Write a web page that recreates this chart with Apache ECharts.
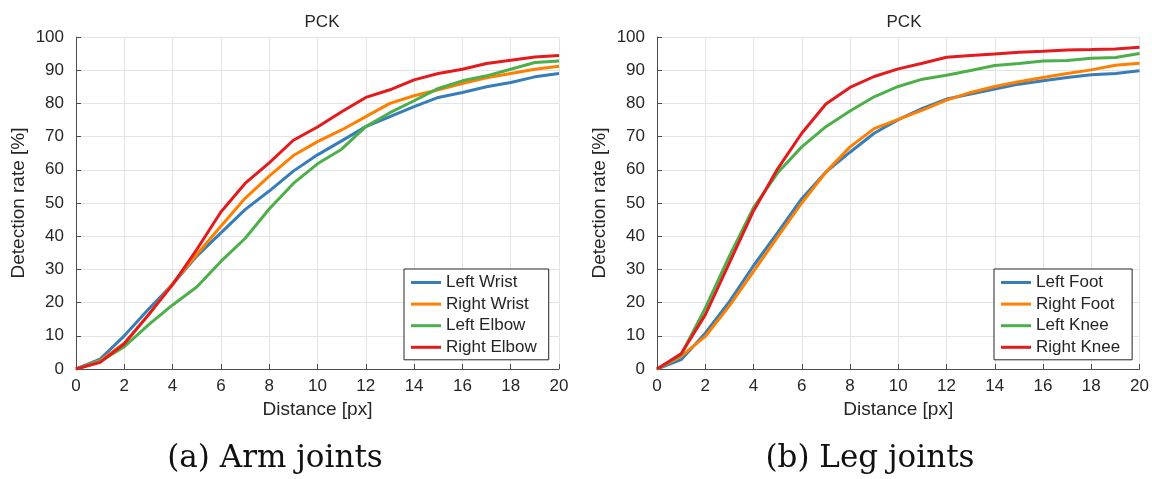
<!DOCTYPE html>
<html>
<head>
<meta charset="utf-8">
<title>PCK</title>
<script src="https://cdn.jsdelivr.net/npm/echarts@6/dist/echarts.min.js"></script>
<style>
  html, body { margin: 0; padding: 0; background: #fff; }
  #main { width: 1152px; height: 479px; }
</style>
</head>
<body>
<div id="main"></div>
<script type="text/javascript">
// distance in px, 0..20
var distance = [0,1,2,3,4,5,6,7,8,9,10,11,12,13,14,15,16,17,18,19,20];

// (a) arm joints
var armNames = ['Left Wrist', 'Right Wrist', 'Left Elbow', 'Right Elbow'];
var leftWrist  = [0,3,10,18,25.5,34,41,48,53.6,59.6,64.5,68.7,73,76,79,81.8,83.3,85,86.3,88,89];
var rightWrist = [0,2.5,7.8,16.3,25.7,34.5,43,51.4,58.1,64.3,68.5,72,76,80,82.3,84.1,86,87.7,89,90.3,91.2];
var leftElbow  = [0,2.3,6.7,13.3,19.3,24.7,32.4,39.3,48.2,55.9,61.8,66.2,73,77.2,80.8,84.5,86.8,88.3,90.3,92.3,92.8];
var rightElbow = [0,2,7.6,16.3,25.4,36,47.3,55.9,62.1,68.9,72.9,77.5,81.8,84.1,87.1,89,90.3,92,93,94,94.4];

// (b) leg joints
var legNames = ['Left Foot', 'Right Foot', 'Left Knee', 'Right Knee'];
var leftFoot  = [0,2.8,10.8,20.3,31.1,41.1,51.3,59.3,65.3,71,75.1,78.5,81.3,82.8,84.3,85.8,86.8,87.8,88.6,89,89.8];
var rightFoot = [0,3.8,9.8,19,29.4,39.8,50,59.3,66.9,72.4,75.2,78,81,83.3,85.1,86.5,87.8,89,90.1,91.5,92.1];
var leftKnee  = [0,4.3,18.3,34,48.6,59.1,66.9,73,77.7,82,85.1,87.3,88.5,89.9,91.4,92,92.8,92.9,93.6,93.8,95];
var rightKnee = [0,4.6,16.3,32,47.6,60.3,71,79.8,84.8,88.1,90.4,92.1,93.9,94.4,94.9,95.4,95.7,96.1,96.2,96.4,96.9];

var captions = ['(a) Arm joints', '(b) Leg joints'];
var colors = ['#377eb8', '#ff7f00', '#4daf4a', '#e41a1c'];

var font = 'Liberation Sans, Arial, sans-serif';

function pairs(vals) {
    return distance.map(function (d, i) { return [d, vals[i]]; });
}

function xAx(idx) {
    return {
        gridIndex: idx, type: 'value', min: 0, max: 20, interval: 2,
        name: 'Distance [px]', nameLocation: 'middle', nameGap: 31,
        nameTextStyle: { fontFamily: font, fontSize: 19, color: '#262626' },
        axisLine: { show: true, lineStyle: { color: '#4d4d4d', width: 1 } },
        axisTick: { show: true, inside: true, length: 5, lineStyle: { color: '#4d4d4d' } },
        axisLabel: { fontFamily: font, fontSize: 17, color: '#262626', margin: 9 },
        splitLine: { show: true, lineStyle: { color: '#e3e3e3', width: 1 } }
    };
}
function yAx(idx) {
    return {
        gridIndex: idx, type: 'value', min: 0, max: 100, interval: 10,
        name: 'Detection rate [%]', nameLocation: 'middle', nameGap: 48,
        nameTextStyle: { fontFamily: font, fontSize: 19, color: '#262626' },
        axisLine: { show: true, lineStyle: { color: '#4d4d4d', width: 1 } },
        axisTick: { show: true, inside: true, length: 5, lineStyle: { color: '#4d4d4d' } },
        axisLabel: { fontFamily: font, fontSize: 17, color: '#262626', margin: 12 },
        splitLine: { show: true, lineStyle: { color: '#e3e3e3', width: 1 } }
    };
}
function legendAt(idx, names, left) {
    return {
        data: names, orient: 'vertical', left: left, top: 269,
        icon: 'rect', itemWidth: 30, itemHeight: 3, itemGap: 4.6,
        padding: [5, 12, 4, 7],
        borderColor: '#262626', borderWidth: 1, backgroundColor: '#fff',
        textStyle: { fontFamily: font, fontSize: 17, lineHeight: 17, color: '#262626' }
    };
}
function line(name, vals, c, idx) {
    return {
        name: name, type: 'line', xAxisIndex: idx, yAxisIndex: idx,
        data: pairs(vals), showSymbol: false, symbol: 'none',
        lineStyle: { width: 3, color: c }, itemStyle: { color: c },
        z: 3
    };
}

var myChart = echarts.init(document.getElementById('main'));
var option = {
    animation: false,
    backgroundColor: '#fff',
    title: [
        { text: 'PCK', left: 317, top: 9, textAlign: 'center',
          textStyle: { fontFamily: font, fontSize: 17, fontWeight: 'normal', color: '#262626' } },
        { text: 'PCK', left: 899, top: 9, textAlign: 'center',
          textStyle: { fontFamily: font, fontSize: 17, fontWeight: 'normal', color: '#262626' } }
    ],
    grid: [
        { left: 76, top: 37, width: 483, height: 332 },
        { left: 657, top: 37, width: 484, height: 332 }
    ],
    xAxis: [xAx(0), xAx(1)],
    yAxis: [yAx(0), yAx(1)],
    legend: [legendAt(0, armNames, 404), legendAt(1, legNames, 994)],
    series: [
        line(armNames[0], leftWrist, colors[0], 0),
        line(armNames[1], rightWrist, colors[1], 0),
        line(armNames[2], leftElbow, colors[2], 0),
        line(armNames[3], rightElbow, colors[3], 0),
        line(legNames[0], leftFoot, colors[0], 1),
        line(legNames[1], rightFoot, colors[1], 1),
        line(legNames[2], leftKnee, colors[2], 1),
        line(legNames[3], rightKnee, colors[3], 1)
    ],
    graphic: [
        { type: 'text', x: 275, y: 459,
          style: { text: captions[0], font: '31px "DejaVu Serif", serif', fill: '#111', align: 'center', verticalAlign: 'middle' } },
        { type: 'text', x: 870, y: 459,
          style: { text: captions[1], font: '31px "DejaVu Serif", serif', fill: '#111', align: 'center', verticalAlign: 'middle' } }
    ]
};
myChart.setOption(option);
</script>
</body>
</html>
